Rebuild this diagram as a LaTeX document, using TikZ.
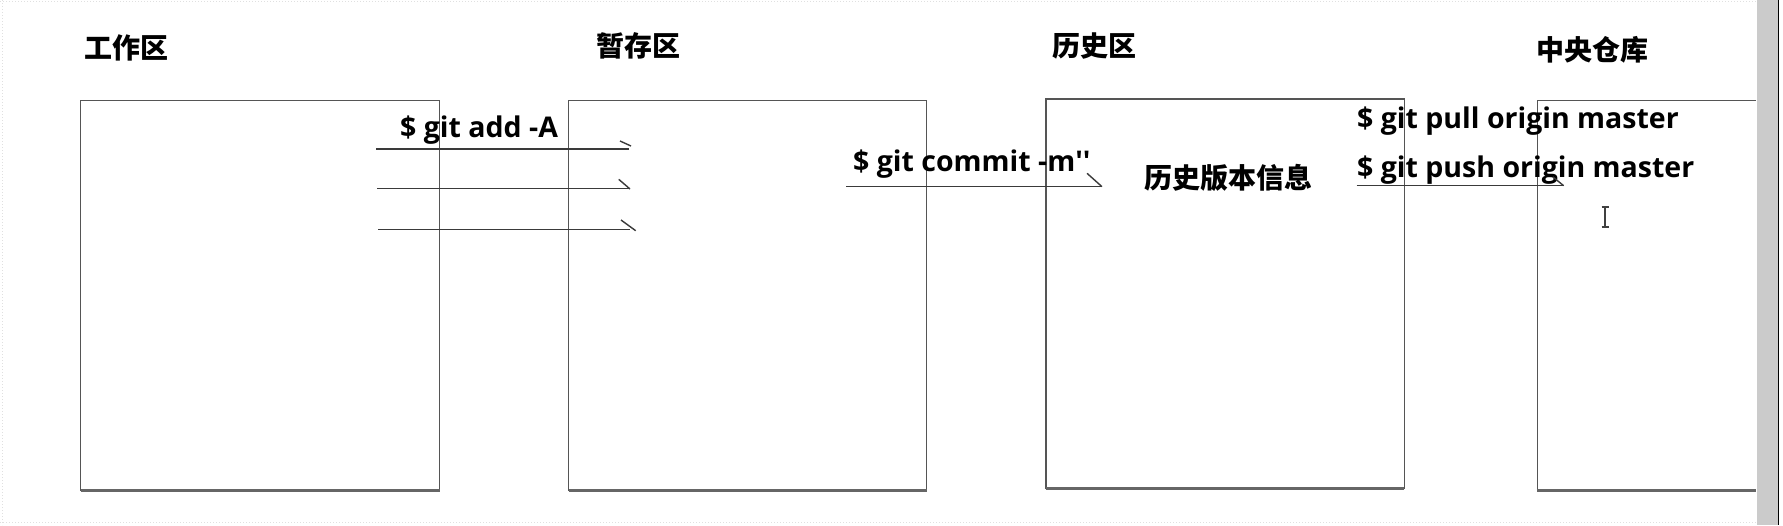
\documentclass[tikz,border=0pt]{standalone}
\usepackage{fontspec}
\newfontfamily\cjk{Noto Sans CJK SC}
\newfontfamily\lat{Open Sans}
\definecolor{boxc}{HTML}{555555}
\definecolor{linec}{HTML}{3A3A3A}
\definecolor{barc}{HTML}{CBCBCB}
\tikzset{
  title/.style={inner sep=0pt, font=\cjk\bfseries\fontsize{28}{30}\selectfont},
  cmd/.style={inner sep=0pt, anchor=base west, font=\lat\bfseries\fontsize{28.5}{30}\selectfont},
  areabox/.style={draw=boxc, line width=1.3pt},
  boxbottom/.style={draw=boxc!90, line width=3pt},
  flow/.style={draw=linec, line width=1.4pt},
  tick/.style={draw=linec, line width=1.4pt},
  faint/.style={draw=black!12, dotted, line width=1pt}
}
\begin{document}
\begin{tikzpicture}[x=1pt,y=-1pt]
\useasboundingbox (0,0) rectangle (1783,525);
\fill[white] (0,0) rectangle (1783,525);
% faint screen borders
\draw[faint] (0,1) -- (1757,1);
\draw[faint] (2,0) -- (2,525);
\draw[faint] (0,522) -- (1757,522);
% scroll bar
\fill[barc] (1757,0) rectangle (1778,525);
\draw[black, line width=1.2pt] (1778.6,0) -- (1778.6,525);

% area boxes
\draw[areabox] (80.7,491) -- (80.7,100.7) -- (439.5,100.7) -- (439.5,491);
\draw[boxbottom] (80.7,490.5) -- (439.5,490.5);
\draw[areabox] (568.5,491) -- (568.5,100.7) -- (926.7,100.7) -- (926.7,491);
\draw[boxbottom] (568.5,490.5) -- (926.7,490.5);
\draw[areabox] (1046,489) -- (1046,99) -- (1404.3,99) -- (1404.3,489);
\draw[boxbottom] (1046,488.5) -- (1404.3,488.5);
\draw[areabox] (1756,100.7) -- (1537.3,100.7) -- (1537.3,491);
\draw[boxbottom] (1537.3,490.5) -- (1756,490.5);

% titles
\node[title] (t1) at (126.8,47.5) {工作区};
\node[title] (t2) at (638.5,46) {暂存区};
\node[title] (t3) at (1094,46) {历史区};
\node[title] (t4) at (1592,50) {中央仓库};

% commands
\node[cmd] (add) at (400,137) {\$ git add -A};
\node[cmd] (commit) at (853,171.7) {\$ git commit -m\textquotesingle\textquotesingle};
\node[cmd] (pull) at (1357,128.5) {\$ git pull origin master};
\node[cmd] (push) at (1357,177) {\$ git push origin master};
\node[title] (hist) at (1228,177.5) {历史版本信息};

% flow lines
\coordinate (a1s) at (376.3,149);   \coordinate (a1e) at (629,149);
\coordinate (a2s) at (377,188.3);   \coordinate (a2e) at (629,188.3);
\coordinate (a3s) at (378,229.3);   \coordinate (a3e) at (630,229.3);
\coordinate (cs) at (846,186.7);    \coordinate (ce) at (1102,186.7);
\coordinate (ps) at (1356.7,185.7); \coordinate (pe) at (1563.6,185.7);
\draw[flow] (a1s) -- (a1e);
\draw[tick] (620,141) -- (631,146);
\draw[flow] (a2s) -- (a2e);
\draw[tick] (618.7,179.3) -- (630,189);
\draw[flow] (a3s) -- (a3e);
\draw[tick] (621,220) -- (635.7,230.7);
\draw[flow] (cs) -- (ce);
\draw[tick] (1087,173.3) -- (1102,186.7);
\draw[flow] (ps) -- (pe);
\draw[tick] (1553,177) -- (1563.6,185.7);

% text cursor (I-beam)
\draw[black!75, line width=1.1pt] (1601.5,207) -- (1608.5,207) (1605,207) -- (1605,227) (1601.5,227) -- (1608.5,227);
\end{tikzpicture}
\end{document}
